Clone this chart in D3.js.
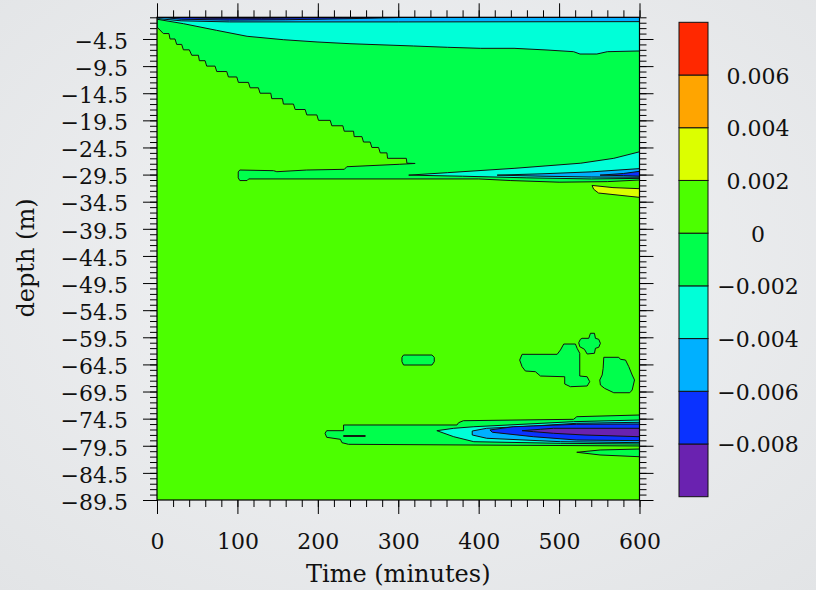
<!DOCTYPE html>
<meta charset="utf-8">
<style>
body, html {
  margin: 0;
  padding: 0;
  overflow: hidden;
}
svg text {
  font-family: "DejaVu Serif", serif;
  fill: #111;
}
</style>
<svg width="816" height="590"></svg>
<script src="https://cdnjs.cloudflare.com/ajax/libs/d3/7.8.5/d3.min.js"></script>
<script>

// contour levels, lowest first
var levelColors = ["#6a22b0", "#0a32ff", "#00b0ff", "#00ffd8", "#00ff4c", "#4cff00", "#dcff00", "#ffa500", "#ff2800"];
var levelLabels = ["\u22120.008", "\u22120.006", "\u22120.004", "\u22120.002", "0", "0.002", "0.004", "0.006"];

var xMajor = [0, 100, 200, 300, 400, 500, 600];
var yMajor = [-4.5, -9.5, -14.5, -19.5, -24.5, -29.5, -34.5, -39.5, -44.5, -49.5, -54.5, -59.5, -64.5, -69.5, -74.5, -79.5, -84.5, -89.5];

// outlines of the filled contours, [time, depth]
var stairEdge = [[0,-2.3],[7.9,-3.5],[14.9,-3.5],[16.2,-4.5],[22.4,-4.5],[24.5,-5.5],[30.7,-5.5],[32.8,-6.5],[40.2,-6.5],
  [43.2,-7.5],[51.5,-7.5],[52.7,-8.5],[59.8,-8.5],[61.8,-9.5],[72.2,-9.5],[74.3,-10.5],[86.7,-10.5],[88.8,-11.5],[99.2,-11.5],
  [101.2,-12.5],[113.7,-12.5],[115.8,-13.5],[126.1,-13.5],[128.2,-14.5],[141.5,-14.5],[142.7,-15.5],[156,-15.5],[157.2,-16.5],
  [169.7,-16.5],[171.8,-17.5],[184.2,-17.5],[186.3,-18.5],[198.8,-18.5],[200.8,-19.5],[215.4,-19.5],[217.4,-20.5],[231.1,-20.5],
  [232.8,-21.5],[244.4,-21.5],[245.2,-22.5],[254.8,-22.5],[256.8,-23.5],[265.1,-23.5],[267.2,-24.5],[275.5,-24.5],[277.6,-25.5],
  [285.9,-25.5],[286.7,-26.5],[310,-26.5],[310.8,-27.4],[321,-27.45]];
var bandTop = [[302,-27.6],[236,-28.05],[233,-28.53],[186,-28.66],[149,-28.97],[145,-28.78],[103,-28.66],[101,-29.0]];
var bandBottom = [[101,-30.1],[103,-30.6],[112,-30.6],[114,-30.3],[400,-30.3],[440,-30.6],[500,-30.9],[560,-30.8],[600,-30.5]];
var upperGreen = [[0,-0.5]].concat(stairEdge, bandTop, bandBottom, [[600,-0.5]]);

var surfaceCyan = [[0,-0.5],[0.4,-0.87],[33,-1.68],[74,-2.9],[112,-4.0],[157,-4.63],[199,-5.05],[240,-5.37],[319,-5.79],
  [361,-6.03],[402,-6.22],[444,-6.22],[485,-6.53],[518,-6.84],[526,-7.27],[547,-7.27],[560,-6.84],[600,-6.71],[600,-0.5]];
var surfaceLightBlue = [[0,-0.5],[2,-0.75],[30,-1.15],[90,-1.35],[300,-1.35],[600,-1.3],[600,-0.5]];
var surfaceBlue = [[6,-0.5],[30,-0.85],[90,-1.02],[160,-0.95],[240,-0.75],[300,-0.55],[320,-0.5]];
var surfacePurple = [[25,-0.5],[60,-0.66],[130,-0.68],[200,-0.56],[230,-0.5]];

var midCyan = [[313,-29.6],[361,-29.15],[444,-28.35],[527,-27.4],[568,-26.5],[600,-25.3],[600,-30.2],[540,-30.3],[460,-30.1],[380,-29.8]];
var midLightBlue = [[423,-29.6],[480,-29.35],[540,-29.0],[600,-28.4],[600,-30.0],[540,-29.95],[480,-29.8]];
var midBlue = [[551,-29.6],[580,-29.3],[600,-28.9],[600,-29.8],[580,-29.7]];
var yellowPatch = [[541,-31.5],[567,-31.9],[600,-32.1],[600,-33.7],[549,-32.9],[543,-32.2]];

var islandA = [[306.6,-62.77],[341.9,-62.77],[344.8,-63.19],[344.8,-64.0],[341.9,-64.61],[306.6,-64.61],[304.6,-64.0],[304.6,-63.19]];
var islandB = [[454,-62.64],[497.6,-62.64],[501.7,-61.84],[505.8,-60.74],[520.3,-60.74],[522.4,-61.53],[525.7,-62.45],[525.7,-66.64],
  [534.9,-66.77],[538.1,-67.69],[534.9,-68.48],[514.1,-68.61],[507,-68.11],[507,-66.77],[476.8,-66.64],[470.5,-65.84],[458.1,-65.72],
  [454,-64.92],[451,-63.69]];
var islandC = [[528.6,-59.69],[536.9,-59.69],[539,-58.76],[544,-58.76],[545.2,-59.69],[549.3,-59.87],[551.4,-60.61],[549.3,-61.35],
  [545.2,-61.53],[544,-62.45],[534.9,-62.58],[531.5,-61.71],[525.7,-61.23],[524.4,-60.5],[526.5,-59.87]];
var islandD = [[555.6,-63.19],[574.2,-63.19],[576.3,-63.56],[582.6,-63.69],[586.7,-64.92],[590.9,-66.45],[593.8,-67.37],[590.9,-69.22],
  [587.9,-69.72],[568,-69.72],[556.4,-68.9],[551.4,-68.3],[550.6,-67.37],[553.6,-66.45],[554.8,-65.22]];

var deepGreen = [[209,-77.2],[211,-76.72],[232,-76.72],[232,-75.67],[373,-75.67],[375,-75.25],[381,-74.88],[518,-74.62],[522,-74.14],
  [600,-73.83],[600,-79.54],[238,-79.23],[230,-78.93],[228,-78.31],[211,-77.94]];
var deepSlit = [[232,-77.62],[259,-77.62],[259,-77.78],[232,-77.78]];
var deepCyan = [[348,-76.72],[369,-76.28],[394,-75.99],[518,-75.06],[600,-74.75],[600,-79.17],[502,-79.05],[394,-78.75],[369,-77.83]];
var deepLightBlue = [[392,-76.78],[410,-76.28],[468,-75.86],[522,-75.36],[600,-75.17],[600,-78.93],[502,-78.75],[410,-78.12],[392,-77.51]];
var deepBlue = [[414,-76.59],[443,-75.99],[522,-75.54],[600,-75.49],[600,-78.56],[522,-78.44],[468,-77.83],[417,-77.01]];
var deepPurple = [[454,-76.72],[477,-76.46],[493,-76.28],[600,-76.28],[600,-77.83],[531,-77.51],[493,-77.2],[468,-76.9]];
var lowerGreen = [[522,-80.7],[551,-80.28],[600,-80.1],[600,-81.52],[551,-81.2]];

// painted in order, base of the plot is level 5
var regions = [
  {level: 4, pts: upperGreen},
  {level: 3, pts: surfaceCyan},
  {level: 2, pts: surfaceLightBlue},
  {level: 1, pts: surfaceBlue},
  {level: 0, pts: surfacePurple},
  {level: 3, pts: midCyan},
  {level: 2, pts: midLightBlue},
  {level: 1, pts: midBlue},
  {level: 6, pts: yellowPatch},
  {level: 4, pts: islandA},
  {level: 4, pts: islandB},
  {level: 4, pts: islandC},
  {level: 4, pts: islandD},
  {level: 4, pts: deepGreen},
  {level: 5, pts: deepSlit},
  {level: 3, pts: deepCyan},
  {level: 2, pts: deepLightBlue},
  {level: 1, pts: deepBlue},
  {level: 0, pts: deepPurple},
  {level: 4, pts: lowerGreen}
];

var svg = d3.select("svg");

var plotL = 157, plotR = 639.5, plotT = 17.3, plotB = 500;

var x = d3.scaleLinear().domain([0, 600]).range([plotL, plotR]);
var y = d3.scaleLinear().domain([-0.5, -89.5]).range([plotT, plotB]);

// page background with a soft vignette
var defs = svg.append("defs");
var grad = defs.append("radialGradient")
    .attr("id", "bg").attr("cx", "50%").attr("cy", "45%").attr("r", "75%");
grad.append("stop").attr("offset", "0%").attr("stop-color", "#f2f3f5");
grad.append("stop").attr("offset", "100%").attr("stop-color", "#e2e4e6");
svg.append("rect").attr("width", 816).attr("height", 590).attr("fill", "url(#bg)");

defs.append("clipPath").attr("id", "plot")
  .append("rect")
    .attr("x", plotL).attr("y", plotT)
    .attr("width", plotR - plotL).attr("height", plotB - plotT);

var plot = svg.append("g").attr("clip-path", "url(#plot)");

plot.append("rect")
    .attr("x", plotL).attr("y", plotT)
    .attr("width", plotR - plotL).attr("height", plotB - plotT)
    .attr("fill", levelColors[5]);

var line = d3.line()
    .x(function(d) { return x(d[0]); })
    .y(function(d) { return y(d[1]); })
    .curve(d3.curveLinearClosed);

plot.selectAll("path.region")
    .data(regions)
  .enter().append("path")
    .attr("class", "region")
    .attr("d", function(d) { return line(d.pts); })
    .attr("fill", function(d) { return levelColors[d.level]; })
    .attr("stroke", "#111")
    .attr("stroke-width", 1)
    .attr("stroke-linejoin", "round");

// frame
svg.append("rect")
    .attr("x", plotL).attr("y", plotT)
    .attr("width", plotR - plotL).attr("height", plotB - plotT)
    .attr("fill", "none").attr("stroke", "#000").attr("stroke-width", 1.2);

var xMinor = d3.range(0, 601, 20);
var yMinor = d3.range(-0.5, -90, -1);

function styleAxis(g) {
  g.select(".domain").remove();
  g.selectAll(".tick line").attr("stroke", "#000").attr("stroke-width", 1);
  g.selectAll("text").attr("font-family", "DejaVu Serif").attr("font-size", 22).attr("fill", "#111");
}

// minor ticks, all sides
svg.append("g").attr("transform", "translate(0," + plotB + ")")
    .call(d3.axisBottom(x).tickValues(xMinor).tickSize(7).tickFormat(""))
    .call(styleAxis);
svg.append("g").attr("transform", "translate(0," + plotT + ")")
    .call(d3.axisTop(x).tickValues(xMinor).tickSize(7).tickFormat(""))
    .call(styleAxis);
svg.append("g").attr("transform", "translate(" + plotL + ",0)")
    .call(d3.axisLeft(y).tickValues(yMinor).tickSize(7).tickFormat(""))
    .call(styleAxis);
svg.append("g").attr("transform", "translate(" + plotR + ",0)")
    .call(d3.axisRight(y).tickValues(yMinor).tickSize(7).tickFormat(""))
    .call(styleAxis);

// major ticks
svg.append("g").attr("transform", "translate(0," + plotB + ")")
    .call(d3.axisBottom(x).tickValues(xMajor).tickSize(14).tickPadding(19).tickFormat(d3.format("d")))
    .call(styleAxis);
svg.append("g").attr("transform", "translate(0," + plotT + ")")
    .call(d3.axisTop(x).tickValues(xMajor).tickSize(14).tickFormat(""))
    .call(styleAxis);
svg.append("g").attr("transform", "translate(" + plotL + ",0)")
    .call(d3.axisLeft(y).tickValues(yMajor).tickSize(14).tickPadding(15).tickFormat(d3.format(".1f")))
    .call(styleAxis)
  .selectAll("text").attr("dy", "0.42em");
svg.append("g").attr("transform", "translate(" + plotR + ",0)")
    .call(d3.axisRight(y).tickValues(yMajor).tickSize(14).tickFormat(""))
    .call(styleAxis);

// axis titles
svg.append("text")
    .attr("x", (plotL + plotR) / 2).attr("y", 582)
    .attr("text-anchor", "middle")
    .attr("font-size", 24)
    .text("Time (minutes)");

svg.append("text")
    .attr("transform", "translate(34,258) rotate(-90)")
    .attr("text-anchor", "middle")
    .attr("font-size", 24)
    .text("depth (m)");

// colour bar
var barX = 679, barW = 29;
var barY = d3.scaleLinear().domain([levelColors.length, 0]).range([22.3, 496.7]);

svg.append("g").selectAll("rect")
    .data(levelColors)
  .enter().append("rect")
    .attr("x", barX)
    .attr("y", function(d, i) { return barY(i + 1); })
    .attr("width", barW)
    .attr("height", function(d, i) { return barY(i) - barY(i + 1); })
    .attr("fill", function(d) { return d; })
    .attr("stroke", "#111")
    .attr("stroke-width", 1);

svg.append("g").selectAll("text")
    .data(levelLabels)
  .enter().append("text")
    .attr("x", 758)
    .attr("y", function(d, i) { return barY(i + 1) + 8.5; })
    .attr("text-anchor", "middle")
    .attr("font-size", 22)
    .text(function(d) { return d; });

</script>
